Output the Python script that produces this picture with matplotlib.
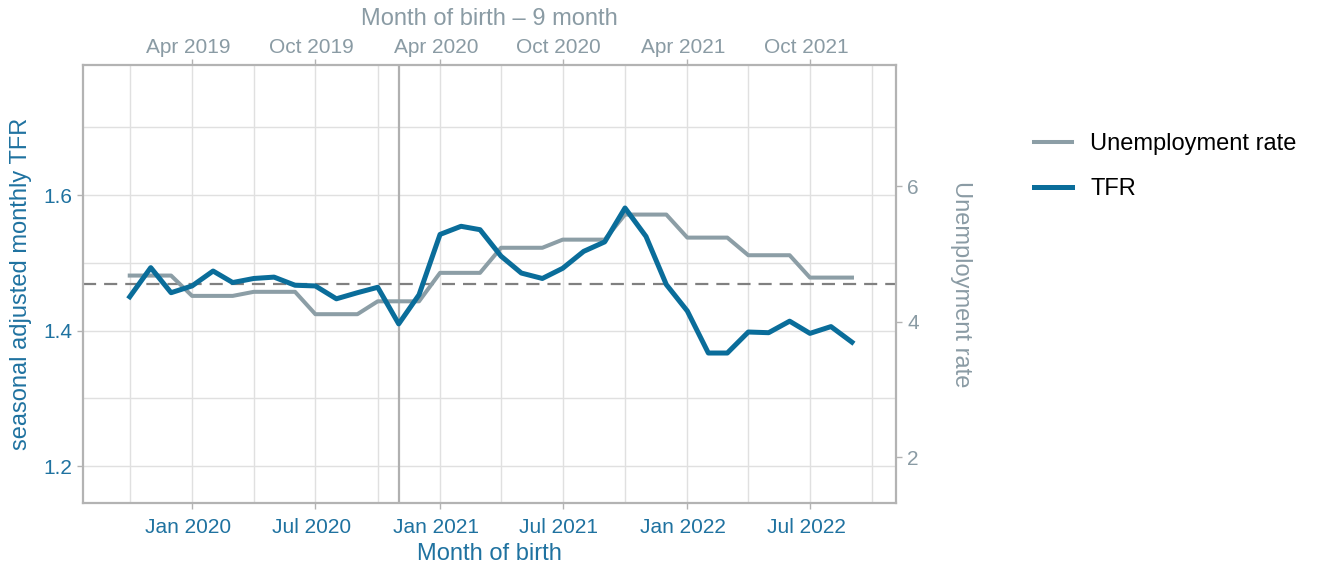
import numpy as np
import pandas as pd
import matplotlib
matplotlib.use("Agg")
import matplotlib.pyplot as plt
import matplotlib.dates as mdates
from matplotlib.lines import Line2D
from matplotlib.transforms import ScaledTranslation

plt.rcParams['font.family'] = ['Liberation Sans', 'DejaVu Sans']

# ---- data -------------------------------------------------------------
months = pd.date_range('2019-10-01', '2022-09-01', freq='MS')

tfr = [1.450, 1.493, 1.456, 1.466, 1.488, 1.471, 1.477, 1.479, 1.467,
       1.466, 1.447, 1.456, 1.464, 1.410, 1.453, 1.542, 1.554, 1.549,
       1.510, 1.485, 1.477, 1.492, 1.517, 1.531, 1.581, 1.539, 1.468,
       1.429, 1.367, 1.367, 1.398, 1.397, 1.414, 1.396, 1.406, 1.383]

unemp = [4.68, 4.68, 4.68, 4.38, 4.38, 4.38, 4.44, 4.44, 4.44,
         4.11, 4.11, 4.11, 4.30, 4.30, 4.30, 4.72, 4.72, 4.72,
         5.09, 5.09, 5.09, 5.21, 5.21, 5.21, 5.58, 5.58, 5.58,
         5.24, 5.24, 5.24, 4.98, 4.98, 4.98, 4.65, 4.65, 4.65]

tfr_ref = 1.4685            # dashed reference line
covid_month = '2020-11-01'  # vertical marker

bottom_ticks = ['2020-01-01', '2020-07-01', '2021-01-01',
                '2021-07-01', '2022-01-01', '2022-07-01']
bottom_labels = ['Jan 2020', 'Jul 2020', 'Jan 2021',
                 'Jul 2021', 'Jan 2022', 'Jul 2022']
top_labels = ['Apr 2019', 'Oct 2019', 'Apr 2020',
              'Oct 2020', 'Apr 2021', 'Oct 2021']
minor_ticks = ['2019-10-01', '2020-04-01', '2020-10-01', '2021-04-01',
               '2021-10-01', '2022-04-01', '2022-10-01']

# ---- colours ------------------------------------------------------------
c_tfr = '#0a6d9a'
c_tfr_txt = '#1f72a0'
c_un = '#8c9ea6'
c_un_txt = '#8a9ba4'
c_frame = '#b3b3b3'
c_grid = '#e0e0e0'

# secondary axis mapping (unemployment <-> TFR scale)
def to_unemp(v):
    return 10 * (np.asarray(v) - 1.4133) + 4

def to_tfr(u):
    return (np.asarray(u) - 4) / 10 + 1.4133

W, H = 1323, 569
fig = plt.figure(figsize=(W / 100, H / 100), dpi=100)
ax = fig.add_axes([83 / W, 1 - 503 / H, (896 - 83) / W, (503 - 65) / H])

x = mdates.date2num(months)
base = mdates.date2num(pd.Timestamp('2020-01-01'))
ax.set_xlim(base - 161, base + 1039)
ax.set_ylim(1.1457, 1.792)

# grid
ax.set_xticks(mdates.date2num(pd.to_datetime(bottom_ticks)))
ax.set_xticklabels(bottom_labels)
ax.set_xticks(mdates.date2num(pd.to_datetime(minor_ticks)), minor=True)
ax.set_yticks([1.2, 1.4, 1.6])
ax.set_yticklabels(['1.2', '1.4', '1.6'])
ax.set_yticks([1.3, 1.5, 1.7], minor=True)
ax.grid(True, which='both', color=c_grid, lw=1.0)
ax.set_axisbelow(True)

for s in ax.spines.values():
    s.set_color(c_frame)
    s.set_linewidth(1.6)

ax.axvline(mdates.date2num(pd.Timestamp(covid_month)), color='#b0b0b0', lw=1.6, zorder=1.5)
ax.axhline(tfr_ref, color='#808080', lw=1.6, ls=(0, (5.9, 3.6)), zorder=1.6)

ax.plot(x, to_tfr(unemp), color=c_un, lw=2.9, zorder=2)
ax.plot(x, tfr, color=c_tfr, lw=3.6, zorder=3)

ax.tick_params(which='major', length=4, width=1.0, color=c_frame, labelsize=15)
ax.tick_params(which='minor', length=0)
ax.tick_params(axis='x', colors=c_frame, labelcolor=c_tfr_txt, pad=6.5)
ax.tick_params(axis='y', colors=c_frame, labelcolor=c_tfr_txt, pad=4)
ax.set_xlabel('Month of birth', color=c_tfr_txt, fontsize=17, labelpad=4.5)
ax.set_ylabel('seasonal adjusted monthly TFR', color=c_tfr_txt, fontsize=17, labelpad=8)

# right axis
sec_y = ax.secondary_yaxis('right', functions=(to_unemp, to_tfr))
sec_y.set_yticks([2, 4, 6])
sec_y.tick_params(length=4, width=1.0, color=c_frame, labelcolor=c_un_txt, labelsize=15, pad=4)
sec_y.spines['right'].set_visible(False)
sec_y.set_ylabel('Unemployment rate', color=c_un_txt, fontsize=17, rotation=270,
                 labelpad=38)

# top axis
sec_x = ax.secondary_xaxis('top')
sec_x.set_xticks(mdates.date2num(pd.to_datetime(bottom_ticks)))
sec_x.set_xticklabels(top_labels)
sec_x.tick_params(length=4, width=1.0, color=c_frame, labelcolor=c_un_txt, labelsize=15, pad=1.7)
sec_x.spines['top'].set_visible(False)
sec_x.set_xlabel('Month of birth \u2013 9 month', color=c_un_txt, fontsize=17, labelpad=9.3)

# date labels sit a little left of their ticks in the original
shift = ScaledTranslation(-4 / 100, 0, fig.dpi_scale_trans)
for lbl in ax.get_xticklabels() + sec_x.get_xticklabels():
    lbl.set_transform(lbl.get_transform() + shift)

handles = [Line2D([], [], color=c_un, lw=2.9), Line2D([], [], color=c_tfr, lw=3.6)]
fig.legend(handles, ['Unemployment rate', 'TFR'], loc='upper left',
           bbox_to_anchor=(1025 / W, 1 - 124 / H), frameon=False, fontsize=17,
           borderaxespad=0, handlelength=1.57, handletextpad=0.8, labelspacing=0.97)

fig.savefig('out.png', dpi=100)
